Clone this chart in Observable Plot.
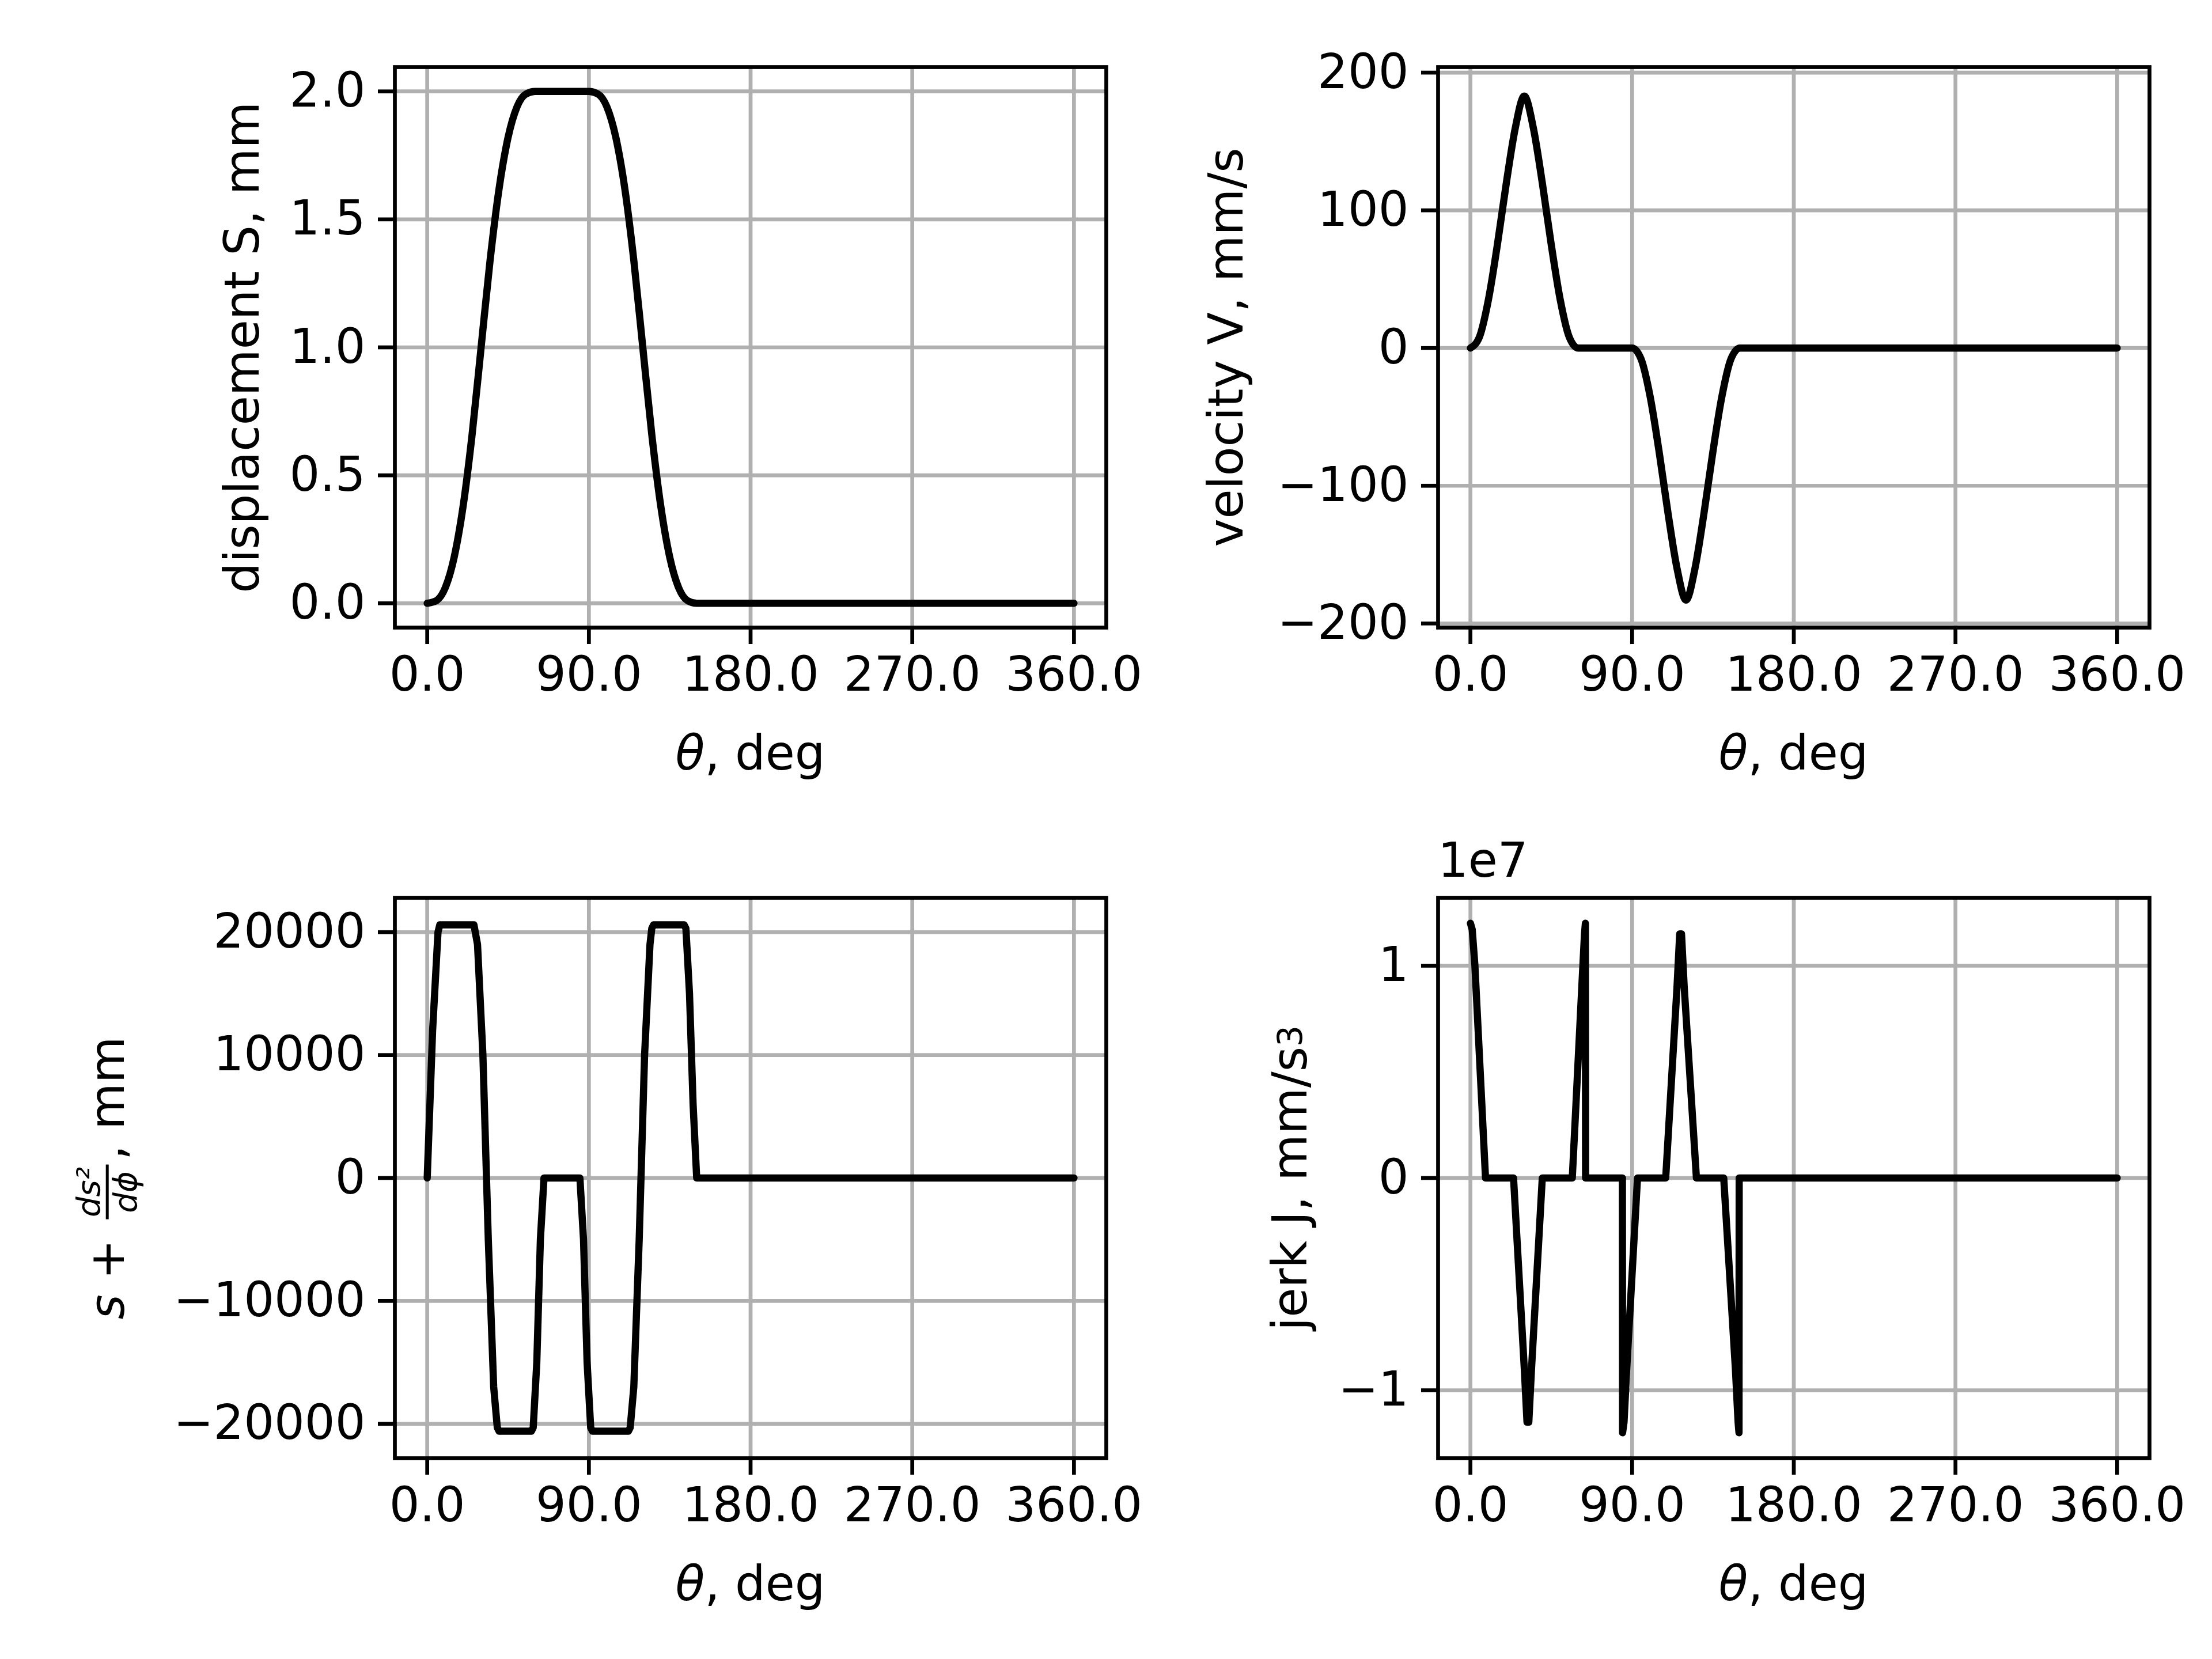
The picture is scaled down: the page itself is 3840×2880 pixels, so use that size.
<!DOCTYPE html>
<html>
<head>
<meta charset="utf-8">
<script src="https://cdn.jsdelivr.net/npm/d3@7"></script>
<script src="https://cdn.jsdelivr.net/npm/@observablehq/plot@0.6"></script>
<style>
  body { margin: 0; background: white; }
  #fig { position: relative; width: 3840px; height: 2880px; background: white; font-family: "DejaVu Sans", sans-serif; color: black; }
  .lbl { position: absolute; font-size: 83px; white-space: nowrap; transform: translate(-50%, -50%); }
  .ylbl { transform: translate(-50%, -50%) rotate(-90deg); display: flex; align-items: center; }
  .frac { display: inline-flex; flex-direction: column; align-items: center; font-size: 56px; font-style: italic; line-height: 1.05; margin: 0 8px; }
  .frac span:first-child { border-bottom: 5px solid black; padding: 0 4px; }
</style>
</head>
<body>
<div id="fig"></div>
<script>
// displacement (mm)
const thetaS = [0,5,10,15,20,25,30,35,40,45,50,55,60, 90,95,100,105,110,115,120,125,130,135,140,145,150, 360];
const dispS  = [0,0.01,0.06,0.18,0.38,0.66,1.0,1.34,1.62,1.82,1.94,1.99,2.0, 2.0,1.99,1.94,1.82,1.62,1.34,1.0,0.66,0.38,0.18,0.06,0.01,0, 0];

// velocity (mm/s)
const thetaV = [0,5,10,15,20,25,30,35,40,45,50,55,60, 90,95,100,105,110,115,120,125,130,135,140,145,150, 360];
const velV   = [0,8,35,75,120,160,183,160,120,75,35,8,0, 0,-8,-35,-75,-120,-160,-183,-160,-120,-75,-35,-8,0, 0];

// s + d2s/dphi2 (mm)
const thetaA = [0,3,6,7,26,28,31,34,37,39,40,58,59,61,63,65,85,87,89,91,92,112,113,115,118,121,124,125,126,143,144,146,148,150,360];
const accA   = [0,12000,20000,20600,20600,19000,10000,-5000,-17000,-20300,-20600,-20600,-20300,-15000,-5000,0,0,-5000,-15000,-20300,-20600,-20600,-20300,-17000,-5000,10000,19000,20300,20600,20600,20300,15000,6000,0,0];

// jerk (x1e7 mm/s^3)
const thetaJ = [0,1,2.5,8.4,24,30,31.5,32.5,34,40,56.7,62,63.5,64,64.1,84.6,84.7,85.5,87,93,108.7,115,116.5,117.5,119,125.8,141,147.5,149,149.5,149.6,360];
const jerkJ  = [1.2,1.17,1.0,0,0,-0.9,-1.15,-1.15,-0.9,0,0,0.9,1.15,1.2,0,0,-1.2,-1.15,-0.9,0,0,0.9,1.15,1.15,0.9,0,0,-0.9,-1.15,-1.2,0,0];

const xTicks = [0, 90, 180, 270, 360];
const yTicksS = [0, 0.5, 1, 1.5, 2];
const yTicksV = [-200, -100, 0, 100, 200];
const yTicksA = [-20000, -10000, 0, 10000, 20000];
const yTicksJ = [-1, 0, 1];

const fig = document.getElementById("fig");
const LW = 6.7, TICK = 29;
const minus = d => d < 0 ? "\u2212" + Math.abs(d) : String(d);

function panel(o) {
  const ml = 330, mr = 100, mt = 60, mb = 220;
  const data = o.x.map((x, i) => ({x, y: o.y[i]}));
  const plot = Plot.plot({
    width: o.fw + ml + mr,
    height: o.fh + mt + mb,
    marginLeft: ml, marginRight: mr, marginTop: mt, marginBottom: mb,
    style: {fontFamily: "DejaVu Sans", fontSize: "83px", background: "transparent", overflow: "visible"},
    x: {domain: [-18, 378]},
    y: {domain: o.yDomain},
    marks: [
      Plot.gridX(xTicks, {stroke: "#b0b0b0", strokeOpacity: 1, strokeWidth: LW}),
      Plot.gridY(o.yTicks, {stroke: "#b0b0b0", strokeOpacity: 1, strokeWidth: LW}),
      Plot.line(data, {x: "x", y: "y", stroke: "black", strokeWidth: 12.5, curve: o.curve || "linear"}),
      Plot.frame({stroke: "black", strokeWidth: LW}),
      Plot.axisX(xTicks, {tickSize: TICK, tickPadding: 22, strokeWidth: LW, tickFormat: d => d.toFixed(1), label: null, fill: "black"}),
      Plot.axisY(o.yTicks, {tickSize: TICK, tickPadding: 22, strokeWidth: LW, tickFormat: o.fmt, label: null, fill: "black"})
    ]
  });
  plot.style.position = "absolute";
  plot.style.left = (o.fx - ml) + "px";
  plot.style.top = (o.fy - mt) + "px";
  fig.appendChild(plot);

  const xl = document.createElement("div");
  xl.className = "lbl";
  xl.innerHTML = "<i>\u03b8</i>, deg";
  xl.style.left = (o.fx + o.fw / 2) + "px";
  xl.style.top = (o.fy + o.fh + 218) + "px";
  fig.appendChild(xl);

  const yl = document.createElement("div");
  yl.className = "lbl ylbl";
  yl.innerHTML = o.ylabel;
  yl.style.left = o.ylx + "px";
  yl.style.top = (o.fy + o.fh / 2) + "px";
  fig.appendChild(yl);
}

const FW = 1235, FH = 973;
panel({x: thetaS, y: dispS, fx: 685, fy: 116, fw: FW, fh: FH, yDomain: [-0.095, 2.095], yTicks: yTicksS,
  fmt: d => d.toFixed(1), curve: "monotone-x", ylabel: "displacement S, mm", ylx: 420});
panel({x: thetaV, y: velV, fx: 2496, fy: 116, fw: FW, fh: FH, yDomain: [-203, 204], yTicks: yTicksV,
  fmt: minus, curve: "monotone-x", ylabel: "velocity V, mm/s", ylx: 2128});
panel({x: thetaA, y: accA, fx: 685, fy: 1558, fw: FW, fh: FH, yDomain: [-22800, 22800], yTicks: yTicksA,
  fmt: minus, ylabel: "<i>s</i>&nbsp;+&nbsp;<span class='frac'><span>ds\u00b2</span><span>d\u03d5</span></span>, mm", ylx: 186});
panel({x: thetaJ, y: jerkJ, fx: 2496, fy: 1558, fw: FW, fh: FH, yDomain: [-1.32, 1.32], yTicks: yTicksJ,
  fmt: minus, ylabel: "jerk J, mm/s<sup style='font-size:58px'>3</sup>", ylx: 2239});

const exp = document.createElement("div");
exp.className = "lbl";
exp.textContent = "1e7";
exp.style.transform = "none";
exp.style.left = "2496px";
exp.style.top = "1445px";
fig.appendChild(exp);
</script>
</body>
</html>
